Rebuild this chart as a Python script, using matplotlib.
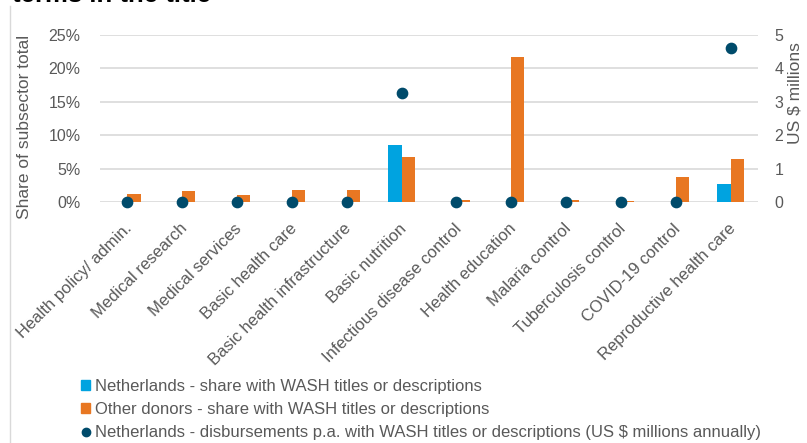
import matplotlib
matplotlib.use("Agg")
import matplotlib.pyplot as plt
import numpy as np
from matplotlib.lines import Line2D
from matplotlib.patches import Patch
import matplotlib.transforms as mtransforms

plt.rcParams['font.family'] = ['Liberation Sans', 'DejaVu Sans']

categories = ["Health policy/ admin.", "Medical research", "Medical services",
              "Basic health care", "Basic health infrastructure", "Basic nutrition",
              "Infectious disease control", "Health education", "Malaria control",
              "Tuberculosis control", "COVID-19 control", "Reproductive health care"]
nl_share = [0, 0, 0, 0, 0, 8.5, 0, 0, 0, 0, 0, 2.7]
other_share = [1.25, 1.6, 1.0, 1.8, 1.8, 6.8, 0.3, 21.75, 0.3, 0.2, 3.7, 6.4]
nl_disb = [0, 0, 0, 0, 0, 3.27, 0, 0, 0, 0, 0, 4.62]

left_ticks = [0, 5, 10, 15, 20, 25]
left_labels = ["0%", "5%", "10%", "15%", "20%", "25%"]
right_ticks = [0, 1, 2, 3, 4, 5]

BLUE = "#00A3E0"
ORANGE = "#E87722"
DARK = "#004B6B"
GRAY = "#595959"

W, H = 807, 443
fig = plt.figure(figsize=(W / 100, H / 100), dpi=100)
ax = fig.add_axes([100 / W, 1 - 202 / H, 658 / W, 167 / H])
ax2 = ax.twinx()

x = np.arange(len(categories))
bw = 0.24
ax.bar(x - bw / 2, nl_share, bw, color=BLUE, zorder=3)
ax.bar(x + bw / 2, other_share, bw, color=ORANGE, zorder=3)
ax2.scatter(x, nl_disb, s=55, color=DARK, zorder=4, clip_on=False)

ax.set_xlim(-0.5, len(categories) - 0.5)
ax.set_ylim(0, 25)
ax2.set_ylim(0, 5)
ax.set_yticks(left_ticks)
ax.set_yticklabels(left_labels)
ax2.set_yticks(right_ticks)
ax2.set_yticklabels([str(v) for v in right_ticks])

ax.grid(axis='y', color="#D9D9D9", linewidth=1.2, zorder=0)
ax.set_axisbelow(True)
for a in (ax, ax2):
    for s in a.spines.values():
        s.set_visible(False)
    a.tick_params(length=0, colors=GRAY, labelsize=11.5)

ax.set_xticks(x)
ax.set_xticklabels(categories, rotation=45, ha='right', va='top',
                   rotation_mode='anchor', fontsize=12)
offset = mtransforms.ScaledTranslation(-3 / 100, -14 / 100, fig.dpi_scale_trans)
for lab in ax.get_xticklabels():
    lab.set_transform(lab.get_transform() + offset)

ax.tick_params(axis='y', pad=14)
ax2.tick_params(axis='y', pad=12)

ax.set_ylabel("Share of subsector total", color=GRAY, fontsize=12.5, va='center')
ax.yaxis.set_label_coords((25 - 100) / 658, 0.45)
ax2.set_ylabel("US $ millions", color=GRAY, fontsize=12.5, va='center')
ax2.yaxis.set_label_coords((795 - 100) / 658, 0.65)

fig.text(12 / W, 1 - 2 / H, "terms in the title", fontsize=18.5, weight='bold',
         va='baseline', ha='left', color='black')

fig.add_artist(Line2D([10 / W, 10 / W], [0, 1 - 6 / H], transform=fig.transFigure,
                      color="#D9D9D9", linewidth=1))

handles = [Patch(color=BLUE), Patch(color=ORANGE),
           Line2D([], [], marker='o', color=DARK, linestyle='none', markersize=6)]
labels = ["Netherlands - share with WASH titles or descriptions",
          "Other donors - share with WASH titles or descriptions",
          "Netherlands - disbursements p.a. with WASH titles or descriptions (US $ millions annually)"]
leg = fig.legend(handles, labels, loc='upper left', bbox_to_anchor=(81 / W, 1 - 379 / H),
                 frameon=False, fontsize=12, handlelength=0.55, handleheight=0.55,
                 handletextpad=0.3, labelspacing=0.48, borderaxespad=0, borderpad=0)
for t in leg.get_texts():
    t.set_color(GRAY)

fig.savefig("out.png", dpi=100)
